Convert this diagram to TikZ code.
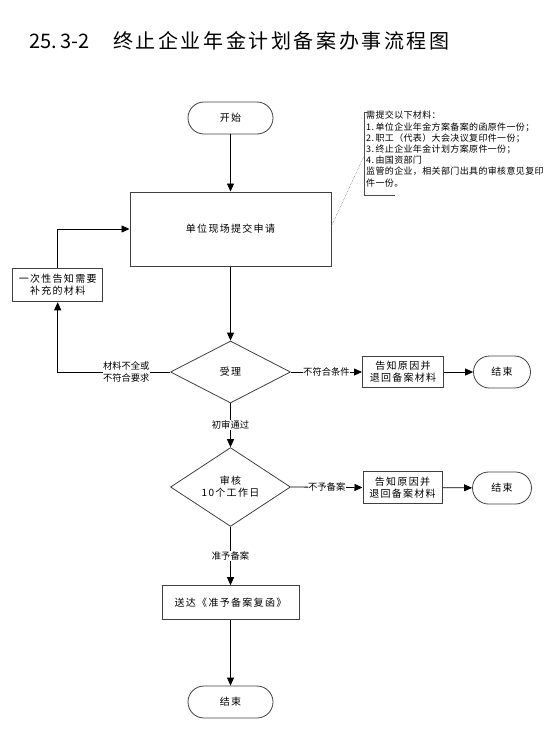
\documentclass[tikz,border=0pt]{standalone}
\usepackage{fontspec}
\setmainfont{Noto Sans CJK SC}
\newfontfamily\nodefam[LetterSpace=13]{Noto Sans CJK SC}
\newfontfamily\notefam[LetterSpace=4]{Noto Sans CJK SC}
\newfontfamily\titlefam[LetterSpace=13]{Noto Sans CJK SC}
\usetikzlibrary{shapes.geometric,arrows.meta}
\begin{document}
\begin{tikzpicture}[x=1pt,y=-1pt,
  box/.style={draw=black!75, line width=1pt, rectangle, inner sep=0pt, align=center, font=\nodefam\fontsize{10}{12}\selectfont},
  term/.style={draw=black!75, line width=0.8pt, rectangle, rounded corners=16pt, inner sep=0pt, font=\nodefam\fontsize{10}{12}\selectfont},
  dec/.style={draw=black!75, line width=0.8pt, diamond, inner sep=0pt, align=center, font=\nodefam\fontsize{10}{12}\selectfont},
  arr/.style={line width=0.8pt, -{Triangle[length=8pt,width=7pt]}},
  lab/.style={fill=white, inner sep=0.5pt, font=\fontsize{9.3}{12}\selectfont, align=center}
]
\useasboundingbox (0,0) rectangle (554,733);
% title
\node[anchor=west, inner sep=0pt, font=\fontsize{20}{24}\selectfont] (tnum) at (29,41) {25.\,3-2};
\node[anchor=west, inner sep=0pt, font=\titlefam\fontsize{20}{24}\selectfont] (ttext) at (113,41) {终止企业年金计划备案办事流程图};
% nodes
\node[term, minimum width=85pt, minimum height=32pt] (start) at (230.5,118) {开始};
\node[box, minimum width=201pt, minimum height=74pt] (submit) at (230.5,229) {单位现场提交申请};
\node[box, minimum width=90pt, minimum height=33.5pt] (supp) at (57.7,285) {一次性告知需要\\补充的材料};
\node[dec, minimum width=120pt, minimum height=62pt] (d1) at (230.5,372) {受理};
\node[box, minimum width=81pt, minimum height=31pt] (rej1) at (403,372) {告知原因并\\退回备案材料};
\node[term, minimum width=57pt, minimum height=32pt] (end1) at (502,372) {结束};
\node[dec, minimum width=120pt, minimum height=62pt] (d2) at (230.5,487) {审核\\10个工作日};
\node[box, minimum width=79pt, minimum height=31.5pt] (rej2) at (402.5,487.5) {告知原因并\\退回备案材料};
\node[term, minimum width=59pt, minimum height=32pt] (end2) at (502,488) {结束};
\node[box, minimum width=137pt, minimum height=33.6pt] (send) at (230.5,602.5) {送达《准予备案复函》};
\node[term, minimum width=85pt, minimum height=32pt] (end3) at (230.5,702) {结束};
% note
\node[anchor=north west, inner sep=0pt, align=left, font=\notefam\fontsize{9}{11.2}\selectfont] (note) at (366,111) {需提交以下材料：\\1.\,单位企业年金方案备案的函原件一份；\\2.\,职工（代表）大会决议复印件一份；\\3.\,终止企业年金计划方案原件一份；\\4.\,由国资部门\\监管的企业，相关部门出具的审核意见复印\\件一份。};
\coordinate (bt) at (364,112);
\coordinate (bb) at (364,195.5);
\coordinate (bm) at (364,156);
\draw[line width=0.9pt, black!70] ([xshift=4pt]bt) -- (bt) -- (bb) -- ([xshift=31pt]bb);
\coordinate (sr) at (331,227);
\draw[densely dotted, line width=0.5pt, black!60] (sr) -- (bm);
% connectors
\coordinate (lc) at (supp.south |- d1.west);
\coordinate (tc) at (supp.north |- submit.west);
\draw[arr] (start) -- (submit);
\draw[arr] (submit) -- (d1);
\draw[arr] (d1.east) -- node[lab] {不符合条件} (rej1.west);
\draw[arr] (rej1) -- (end1);
\draw[arr] (d1.west) -- node[lab, pos=0.39, font=\fontsize{9.3}{11.5}\selectfont] {材料不全或\\不符合要求} (lc) -- (supp.south);
\draw[arr] (supp.north) -- (tc) -- (submit.west);
\draw[arr] (d1.south) -- node[lab, pos=0.5] {初审通过} (d2.north);
\draw[arr] (d2.east) -- node[lab] {不予备案} (rej2.west);
\draw[arr] (rej2) -- (end2);
\draw[arr] (d2.south) -- node[lab] {准予备案} (send.north);
\draw[arr] (send) -- (end3);
\end{tikzpicture}
\end{document}
